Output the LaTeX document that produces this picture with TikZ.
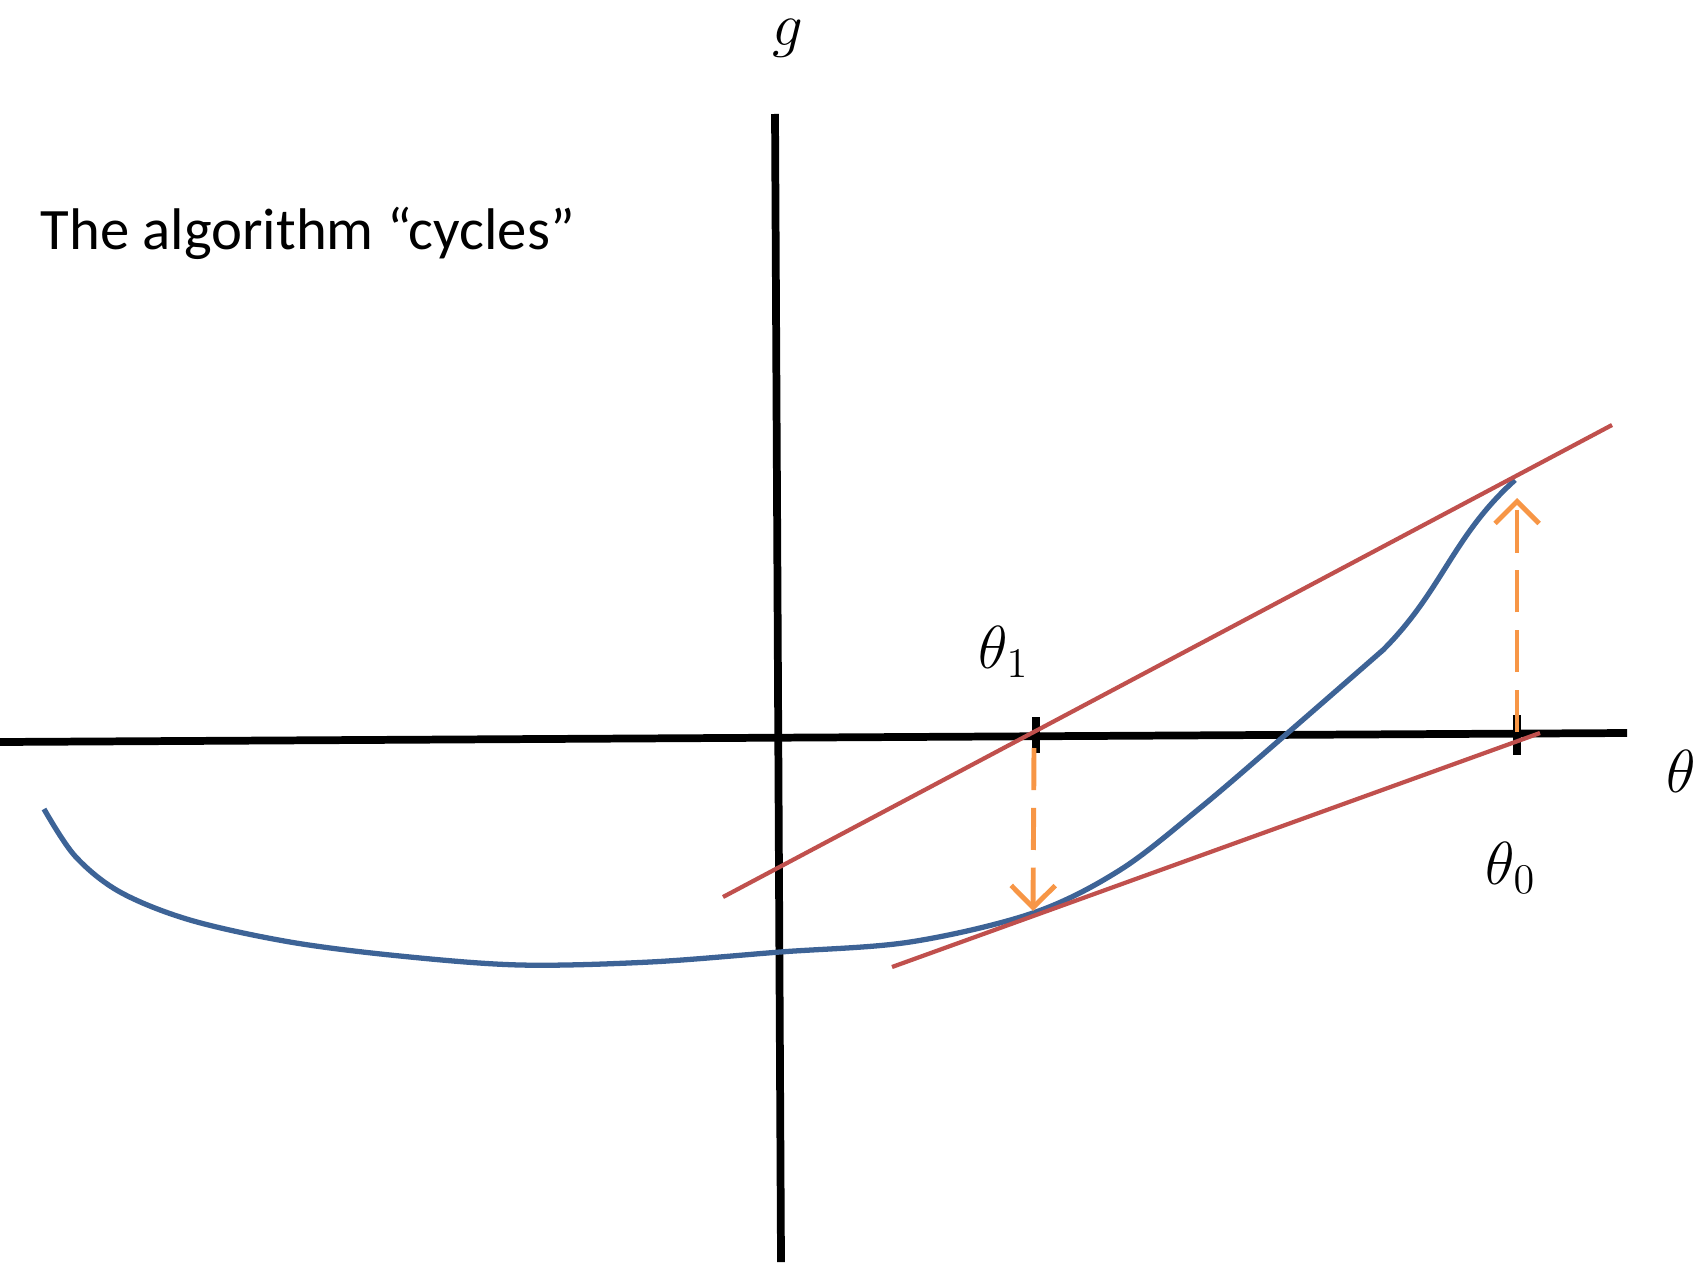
\documentclass[tikz,border=0pt]{standalone}
\usepackage{fontspec}
\setmainfont{Carlito}
\usepackage{xcolor}
\definecolor{tanred}{HTML}{C0504D}
\definecolor{curveblue}{HTML}{3D6396}
\definecolor{steporange}{HTML}{F79646}
\usetikzlibrary{arrows.meta,calc}

\begin{document}
\begin{tikzpicture}[
  x=0.01cm, y=-0.01cm,
  font=\fontsize{16.7}{20}\selectfont,
  axis/.style = {line width=2.2pt, black},
  tan/.style  = {line width=1.2pt, tanred},
  fcurve/.style = {line width=1.5pt, curveblue},
  jump/.style = {line width=1.4pt, steporange, dash pattern=on 12pt off 5pt,
                 -{Straight Barb[length=2.2mm, width=4.4mm, line width=1.4pt]}},
  lab/.style  = {inner sep=0pt, font=\fontsize{18}{20}\selectfont},
]
\useasboundingbox (0,0) rectangle (1698,1264);

% axes
\coordinate (xl) at (0,742);
\coordinate (xr) at (1627,733);
\coordinate (yt) at (775,114);
\coordinate (yb) at (781,1262);
\draw[axis] (xl) -- (xr);
\draw[axis] (yt) -- (yb);

% ticks
\coordinate (t1) at (1036,736);
\coordinate (t0) at (1517,734);
\draw[axis] ($(t1)+(0,-19)$) -- ($(t1)+(0,17)$);
\draw[axis] ($(t0)+(0,-19)$) -- ($(t0)+(0,21)$);

% labels
\node[lab] at (788,38)   (glab)  {$g$};
\node[lab] at (1681,771) (thlab) {$\theta$};
\node[lab] at (1004,652) (th1)   {$\theta_1$};
\node[lab] at (1511,868) (th0)   {$\theta_0$};
\node[inner sep=0pt, anchor=west] at (40,233) (title) {The algorithm “cycles”};

% the function
\coordinate (p1) at (1033,913);
\coordinate (p0) at (1515,480);
\draw[fcurve] plot[smooth, tension=0.55] coordinates {
  (44,809) (75,856) (120,892) (190,920) (290,942) (400,956) (520,965)
  (650,962) (780,952) (910,942) (p1) (1120,870) (1200,808) (1283,737)
  (1383,650)} to[out=45, in=222] (p0);

% tangents
\coordinate (a0) at (723,897);
\coordinate (b0) at (1612,425);
\coordinate (a1) at (892,967);
\coordinate (b1) at (1540,733);
\draw[tan] (a0) -- (b0);
\draw[tan] (a1) -- (b1);

% steps
\draw[jump] ($(t0)+(0,-2)$) -- ($(p0)+(2,18)$);
\draw[jump] ($(t1)+(-2,12)$) -- ($(p1)+(0,-2)$);
\end{tikzpicture}
\end{document}
